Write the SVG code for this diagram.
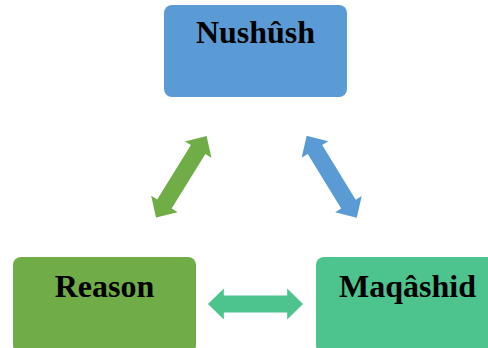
<svg xmlns="http://www.w3.org/2000/svg" width="488" height="348" viewBox="0 0 488 348">
<style>
.lbl{font-family:"Liberation Serif","Times New Roman",serif;font-weight:bold;font-size:32px;fill:#000;text-anchor:middle}
</style>
<defs>
<path id="dbl" d="M-48,0 L-32,-15.6 L-32,-8.5 L32,-8.5 L32,-15.6 L48,0 L32,15.6 L32,8.5 L-32,8.5 L-32,15.6 Z"/>
</defs>
<rect width="488" height="348" fill="#fff"/>
<g id="connectors">
<use href="#dbl" fill="#70AD47" transform="translate(181.3,176.8) rotate(-58.2)"/>
<use href="#dbl" fill="#5B9BD5" transform="translate(331.7,176.8) rotate(58.5)"/>
<use href="#dbl" fill="#4DC48E" transform="translate(255.5,304) scale(0.99,1)"/>
</g>
<g id="nushush">
<rect x="164" y="5" width="183" height="92" rx="8" fill="#5B9BD5"/>
<text class="lbl" x="255.5" y="43">Nushûsh</text>
</g>
<g id="reason">
<rect x="13" y="257" width="183" height="96" rx="8" fill="#70AD47"/>
<text class="lbl" x="104.5" y="297">Reason</text>
</g>
<g id="maqashid">
<rect x="316" y="257" width="183" height="96" rx="8" fill="#4DC48E"/>
<text class="lbl" x="407.5" y="297">Maqâshid</text>
</g>
</svg>
